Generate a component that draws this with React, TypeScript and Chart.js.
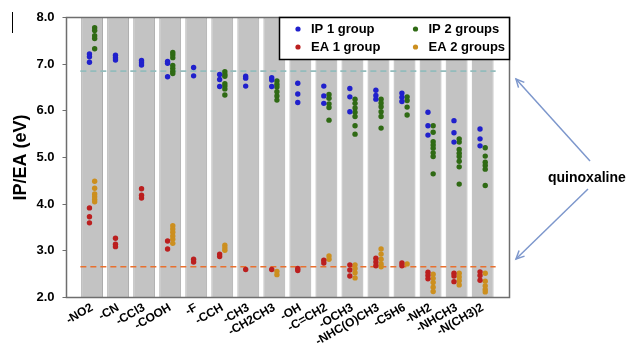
import { useEffect, useRef } from "react";
import { Chart, registerables } from "chart.js";

Chart.register(...registerables);

const CATEGORIES = [
  "-NO2", "-CN", "-CCl3", "-COOH", "-F", "-CCH", "-CH3", "-CH2CH3",
  "-OH", "-C=CH2", "-OCH3", "-NHC(O)CH3", "-C5H6", "-NH2", "-NHCH3", "-N(CH3)2",
];

const IP_1_GROUP: number[][] = [
  [7.22, 7.16, 7.04],
  [7.19, 7.14, 7.09],
  [7.08, 7.03, 6.98],
  [7.06, 7.02, 6.73],
  [6.93, 6.75],
  [6.78, 6.67, 6.52],
  [6.74, 6.70, 6.53],
  [6.71, 6.66, 6.52],
  [6.59, 6.36, 6.18],
  [6.53, 6.32, 6.16],
  [6.48, 6.30, 5.98],
  [6.44, 6.33, 6.25],
  [6.38, 6.29, 6.20],
  [5.97, 5.68, 5.48],
  [5.79, 5.53, 5.33],
  [5.61, 5.40, 5.25],
];

const IP_2_GROUPS: number[][] = [
  [7.78, 7.72, 7.61, 7.55, 7.33],
  [],
  [],
  [7.25, 7.20, 7.14, 6.97, 6.91, 6.85, 6.80],
  [],
  [6.84, 6.78, 6.74, 6.58, 6.53, 6.47, 6.34],
  [],
  [6.64, 6.57, 6.51, 6.41, 6.32, 6.23],
  [],
  [6.35, 6.27, 6.15, 6.07, 5.80],
  [6.25, 6.16, 6.06, 5.97, 5.88, 5.68, 5.50],
  [6.25, 6.17, 6.09, 5.98, 5.88, 5.63],
  [6.30, 6.22, 6.08, 5.91],
  [5.68, 5.54, 5.34, 5.27, 5.20, 5.10, 5.02, 4.65],
  [5.40, 5.33, 5.17, 5.09, 5.02, 4.92, 4.80, 4.43],
  [5.21, 5.03, 4.90, 4.83, 4.75, 4.40],
];

const EA_1_GROUP: number[][] = [
  [3.92, 3.73, 3.60],
  [3.27, 3.14, 3.09],
  [4.33, 4.19, 4.13],
  [3.21, 3.04],
  [2.82, 2.76],
  [2.93, 2.88],
  [2.60],
  [2.60],
  [2.62, 2.58],
  [2.80, 2.74],
  [2.70, 2.59, 2.46],
  [2.84, 2.76, 2.68],
  [2.74, 2.68],
  [2.54, 2.47, 2.40],
  [2.52, 2.46, 2.34],
  [2.55, 2.47, 2.37],
];

const EA_2_GROUPS: number[][] = [
  [4.49, 4.34, 4.22, 4.16, 4.10, 4.05],
  [],
  [],
  [3.54, 3.47, 3.40, 3.32, 3.25, 3.16],
  [],
  [3.12, 3.06, 3.01],
  [],
  [2.56, 2.49],
  [],
  [2.89, 2.82],
  [2.70, 2.62, 2.53, 2.42],
  [3.04, 2.93, 2.82, 2.72, 2.66],
  [2.72],
  [2.50, 2.41, 2.32, 2.22, 2.13],
  [2.52, 2.44, 2.36, 2.27],
  [2.52, 2.35, 2.25, 2.17, 2.12],
];

const QUINOXALINE_IP = 6.85;
const QUINOXALINE_EA = 2.66;
const Y_MIN = 2;
const Y_MAX = 8;
const Y_STEP = 1;

const SERIES_NAMES = ["IP 1 group", "IP 2 groups", "EA 1 group", "EA 2 groups"];
const ANNOTATION_TEXT = "quinoxaline";

const FONT = "'Liberation Sans', Arial, sans-serif";
const COLORS = {
  ip1: "#2020cc",
  ip2: "#2f6a14",
  ea1: "#bb1f1f",
  ea2: "#cc8f1f",
};

function toPoints(values: number[][], shift: number) {
  return values.flatMap((col, i) => col.map((v) => ({ x: i + shift, y: v })));
}

const decorPlugin = {
  id: "decor",
  afterDraw(chart: any) {
    const { ctx, chartArea } = chart;
    const { left, right, top, bottom } = chartArea;
    ctx.save();

    // frame
    ctx.strokeStyle = "#6e6e6e";
    ctx.lineWidth = 1.5;
    ctx.strokeRect(left, top, right - left, bottom - top);

    // legend
    const lw = 230;
    const lh = 42;
    const lx = right - lw;
    const ly = top;
    ctx.fillStyle = "#ffffff";
    ctx.fillRect(lx, ly, lw, lh);
    ctx.strokeStyle = "#000000";
    ctx.lineWidth = 1.5;
    ctx.strokeRect(lx, ly, lw, lh);
    const order = [0, 1, 2, 3];
    const cols = [18.5, 136];
    const rows = [11.5, 29.5];
    ctx.font = `bold 13px ${FONT}`;
    ctx.textBaseline = "middle";
    ctx.textAlign = "left";
    order.forEach((di, k) => {
      const ds = chart.data.datasets.find((d: any) => d.label === SERIES_NAMES[di]);
      const cx = lx + cols[k % 2];
      const cy = ly + rows[Math.floor(k / 2)];
      ctx.fillStyle = ds.backgroundColor;
      ctx.beginPath();
      ctx.arc(cx, cy, 2.6, 0, Math.PI * 2);
      ctx.fill();
      ctx.fillStyle = "#000000";
      ctx.fillText(SERIES_NAMES[di], cx + 13, cy + 0.5);
    });

    // annotation text
    ctx.font = `bold 14px ${FONT}`;
    ctx.fillStyle = "#000000";
    ctx.textAlign = "left";
    ctx.textBaseline = "middle";
    ctx.fillText(ANNOTATION_TEXT, 548, 178);

    // arrows
    const arrow = (x1: number, y1: number, x2: number, y2: number) => {
      ctx.strokeStyle = "#7d97cc";
      ctx.lineWidth = 1.5;
      ctx.beginPath();
      ctx.moveTo(x1, y1);
      ctx.lineTo(x2, y2);
      ctx.stroke();
      const a = Math.atan2(y2 - y1, x2 - x1);
      const L = 9;
      ctx.beginPath();
      ctx.moveTo(x2 - L * Math.cos(a - 0.45), y2 - L * Math.sin(a - 0.45));
      ctx.lineTo(x2, y2);
      ctx.lineTo(x2 - L * Math.cos(a + 0.45), y2 - L * Math.sin(a + 0.45));
      ctx.stroke();
    };
    arrow(590, 161, 516, 79);
    arrow(588, 189, 516, 259);

    // left edge mark
    ctx.strokeStyle = "#000000";
    ctx.lineWidth = 1;
    ctx.beginPath();
    ctx.moveTo(12.5, 12);
    ctx.lineTo(12.5, 33);
    ctx.stroke();

    ctx.restore();
  },
};

export default function App() {
  const ref = useRef<HTMLCanvasElement | null>(null);

  useEffect(() => {
    document.body.style.margin = "0";
    const canvas = ref.current;
    if (!canvas) return;

    const bandData = CATEGORIES.map((_, i) => ({ x: i, y: [Y_MIN, Y_MAX] }));
    const xMin = -0.45;
    const xMax = CATEGORIES.length - 0.5;

    const chart = new Chart(canvas, {
      type: "scatter",
      data: {
        datasets: [
          {
            type: "bar" as any,
            label: "band",
            data: bandData as any,
            backgroundColor: "#c3c3c3",
            borderColor: "#acacac",
            borderWidth: 1,
            barPercentage: 0.84,
            categoryPercentage: 1,
            order: 10,
          },
          {
            type: "line" as any,
            label: "quinoxaline IP",
            data: [
              { x: xMin, y: QUINOXALINE_IP },
              { x: xMax, y: QUINOXALINE_IP },
            ],
            borderColor: "#93bcbc",
            borderWidth: 1.6,
            borderDash: [6, 4],
            pointRadius: 0,
            order: 5,
          },
          {
            type: "line" as any,
            label: "quinoxaline EA",
            data: [
              { x: xMin, y: QUINOXALINE_EA },
              { x: xMax, y: QUINOXALINE_EA },
            ],
            borderColor: "#e8702e",
            borderWidth: 1.4,
            borderDash: [6, 4],
            pointRadius: 0,
            order: 5,
          },
          {
            label: SERIES_NAMES[0],
            data: toPoints(IP_1_GROUP, -0.1),
            backgroundColor: COLORS.ip1,
            borderWidth: 0,
            pointRadius: 2.7,
            order: 1,
          },
          {
            label: SERIES_NAMES[1],
            data: toPoints(IP_2_GROUPS, 0.1),
            backgroundColor: COLORS.ip2,
            borderWidth: 0,
            pointRadius: 2.7,
            order: 1,
          },
          {
            label: SERIES_NAMES[2],
            data: toPoints(EA_1_GROUP, -0.1),
            backgroundColor: COLORS.ea1,
            borderWidth: 0,
            pointRadius: 2.7,
            order: 1,
          },
          {
            label: SERIES_NAMES[3],
            data: toPoints(EA_2_GROUPS, 0.1),
            backgroundColor: COLORS.ea2,
            borderWidth: 0,
            pointRadius: 2.7,
            order: 1,
          },
        ],
      },
      options: {
        animation: false,
        responsive: false,
        events: [],
        layout: { padding: { left: 0, top: 17.5, right: 119.5, bottom: 0 } },
        plugins: {
          legend: { display: false },
          tooltip: { enabled: false },
        },
        scales: {
          x: {
            type: "linear",
            min: xMin,
            max: xMax,
            grid: { display: false, drawTicks: false },
            border: { display: false },
            afterBuildTicks: (scale: any) => {
              scale.ticks = CATEGORIES.map((_, i) => ({ value: i }));
            },
            afterFit: (scale: any) => {
              scale.height = 48.5;
            },
            ticks: {
              autoSkip: false,
              maxRotation: 30,
              minRotation: 30,
              padding: 3,
              color: "#000000",
              font: { family: FONT, size: 12, weight: "bold" },
              callback: (v: any) => CATEGORIES[Math.round(Number(v))] ?? "",
            },
          },
          y: {
            type: "linear",
            min: Y_MIN,
            max: Y_MAX,
            grid: {
              display: true,
              drawOnChartArea: false,
              drawTicks: true,
              tickLength: 4,
              color: "#6e6e6e",
            },
            border: { display: false },
            afterFit: (scale: any) => {
              scale.width = 66.5;
            },
            ticks: {
              stepSize: Y_STEP,
              padding: 8,
              color: "#000000",
              font: { family: FONT, size: 13, weight: "bold" },
              callback: (v: any) => Number(v).toFixed(1),
            },
            title: {
              display: true,
              text: "IP/EA (eV)",
              color: "#000000",
              padding: { top: 10, bottom: 0 },
              font: { family: FONT, size: 18, weight: "bold" },
            },
          },
        },
      },
      plugins: [decorPlugin],
    } as any);

    return () => chart.destroy();
  }, []);

  return (
    <div style={{ position: "absolute", left: 0, top: 0, width: 629, height: 346, background: "#fff" }}>
      <canvas ref={ref} width={629} height={346} />
    </div>
  );
}
